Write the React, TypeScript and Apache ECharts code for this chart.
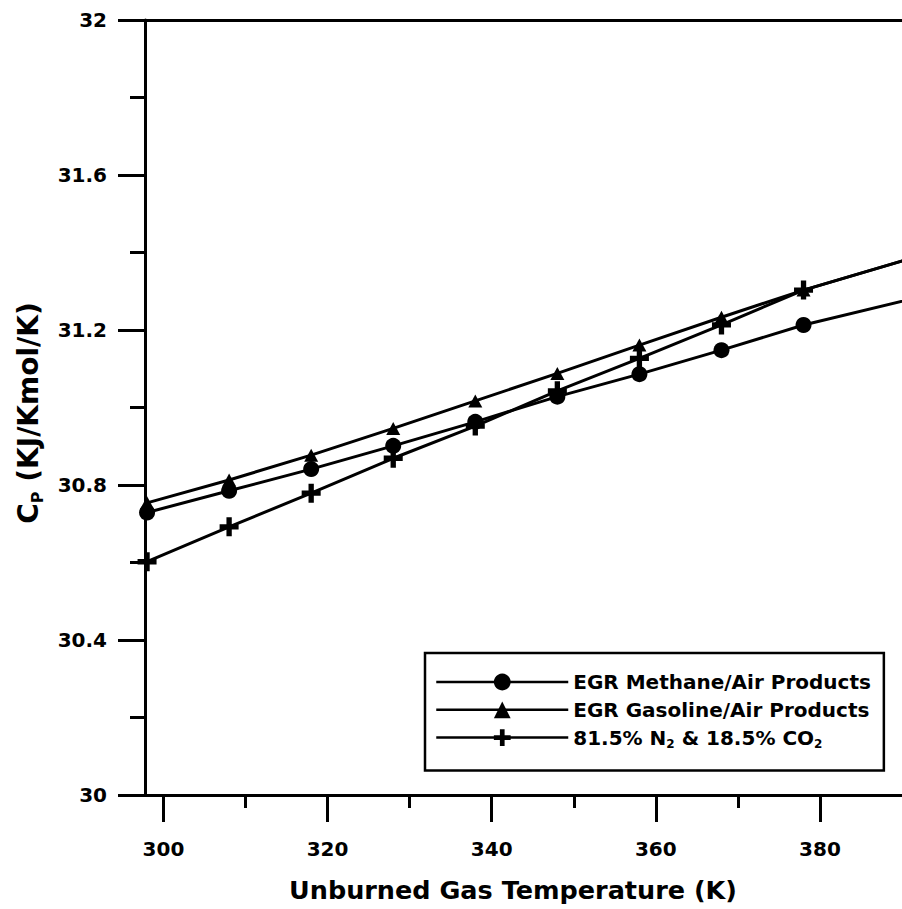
import React, { useEffect, useRef } from 'react';
import * as echarts from 'echarts';

const temperatures = [298, 308, 318, 328, 338, 348, 358, 368, 378, 398];
const methaneCp = [30.729, 30.785, 30.841, 30.901, 30.963, 31.028, 31.086, 31.148, 31.213, 31.315];
const gasolineCp = [30.754, 30.813, 30.877, 30.946, 31.017, 31.088, 31.161, 31.233, 31.303, 31.428];
const n2co2Cp = [30.602, 30.692, 30.779, 30.869, 30.952, 31.043, 31.127, 31.213, 31.303, 31.428];

const xMajorTicks = [300, 320, 340, 360, 380];
const xMinorTicks = [310, 330, 350, 370];
const seriesNames = ['EGR Methane/Air Products', 'EGR Gasoline/Air Products', '81.5% N2 & 18.5% CO2'];
const xAxisTitle = 'Unburned Gas Temperature (K)';
const yAxisTitle = 'C{sub|P} (KJ/Kmol/K)';

const FONT = '"DejaVu Sans", Verdana, sans-serif';
const crossPath = 'path://M3.6,0 H6.4 V3.6 H10 V6.4 H6.4 V10 H3.6 V6.4 H0 V3.6 H3.6 Z';

function pairs(ys: number[]) {
  return temperatures.map((t, i) => [t, ys[i]]);
}

export default function App() {
  const ref = useRef<HTMLDivElement>(null);
  useEffect(() => {
    if (!ref.current) return;
    const chart = echarts.init(ref.current, null, { renderer: 'svg' });
    const lineStyle = { color: '#000', width: 3 };
    const xMin = 297.75;
    const xMax = 390;
    const hidden = { show: false };
    chart.setOption({
      animation: false,
      backgroundColor: '#fff',
      grid: {
        left: 145,
        top: 20,
        bottom: 114,
        right: 0,
        show: false,
      },
      legend: {
        orient: 'vertical',
        left: 425,
        top: 653,
        padding: [17, 13, 21, 10],
        itemGap: 3.8,
        itemWidth: 132,
        itemHeight: 21,
        borderColor: '#000',
        borderWidth: 2.5,
        backgroundColor: '#fff',
        lineStyle: { width: 2.5, color: '#000' },
        data: seriesNames,
        formatter: (name: string) => name.replace('N2', 'N{sub|2}').replace('CO2', 'CO{sub|2}'),
        textStyle: {
          fontFamily: FONT,
          fontWeight: 'bold',
          fontSize: 20,
          lineHeight: 24,
          color: '#000',
          rich: {
            sub: { fontFamily: FONT, fontWeight: 'bold', fontSize: 12, verticalAlign: 'bottom', color: '#000' },
          },
        },
      },
      xAxis: [
        {
          type: 'value',
          position: 'bottom',
          min: xMin,
          max: xMax,
          name: xAxisTitle,
          nameLocation: 'middle',
          nameGap: 82,
          nameTextStyle: {
            fontFamily: FONT,
            fontWeight: 'bold',
            fontSize: 25.5,
            color: '#000',
            padding: [0, 21, 0, 0],
          },
          axisLine: { show: true, lineStyle: { color: '#000', width: 3 } },
          axisTick: { show: true, customValues: xMajorTicks, length: 27, lineStyle: { color: '#000', width: 3 } },
          axisLabel: {
            customValues: xMajorTicks,
            margin: 44,
            fontFamily: FONT,
            fontWeight: 'bold',
            fontSize: 20,
            color: '#000',
          },
          splitLine: hidden,
        },
        {
          type: 'value',
          position: 'bottom',
          min: xMin,
          max: xMax,
          axisLine: hidden,
          axisTick: { show: true, customValues: xMinorTicks, length: 13, lineStyle: { color: '#000', width: 3 } },
          axisLabel: hidden,
          splitLine: hidden,
        },
        {
          type: 'value',
          position: 'top',
          min: xMin,
          max: xMax,
          axisLine: { show: true, lineStyle: { color: '#000', width: 3 } },
          axisTick: hidden,
          axisLabel: hidden,
          splitLine: hidden,
        },
      ],
      yAxis: {
        type: 'value',
        min: 30,
        max: 32,
        interval: 0.4,
        name: yAxisTitle,
        nameLocation: 'middle',
        nameGap: 100,
        nameTextStyle: {
          fontFamily: FONT,
          fontWeight: 'bold',
          fontSize: 28,
          lineHeight: 34,
          color: '#000',
          padding: [0, 11, 0, 0],
          rich: {
            sub: { fontFamily: FONT, fontWeight: 'bold', fontSize: 16, verticalAlign: 'bottom', color: '#000' },
          },
        },
        axisLine: { show: true, lineStyle: { color: '#000', width: 3 } },
        axisTick: { show: true, length: 27, lineStyle: { color: '#000', width: 3 } },
        minorTick: { show: true, splitNumber: 2, length: 15, lineStyle: { color: '#000', width: 3 } },
        axisLabel: {
          margin: 38,
          fontFamily: FONT,
          fontWeight: 'bold',
          fontSize: 20,
          color: '#000',
        },
        splitLine: hidden,
        minorSplitLine: hidden,
      },
      series: [
        {
          name: seriesNames[0],
          type: 'line',
          data: pairs(methaneCp),
          symbol: 'circle',
          symbolSize: 16,
          itemStyle: { color: '#000' },
          lineStyle,
          z: 3,
        },
        {
          name: seriesNames[1],
          type: 'line',
          data: pairs(gasolineCp),
          symbol: 'triangle',
          symbolSize: [14, 13],
          itemStyle: { color: '#000' },
          lineStyle,
          z: 2,
        },
        {
          name: seriesNames[2],
          type: 'line',
          data: pairs(n2co2Cp),
          symbol: crossPath,
          symbolSize: 19,
          itemStyle: { color: '#000' },
          lineStyle,
          z: 2,
        },
      ],
    });
    return () => chart.dispose();
  }, []);
  return <div ref={ref} style={{ position: 'fixed', left: 0, top: 0, width: 902, height: 909 }} />;
}
